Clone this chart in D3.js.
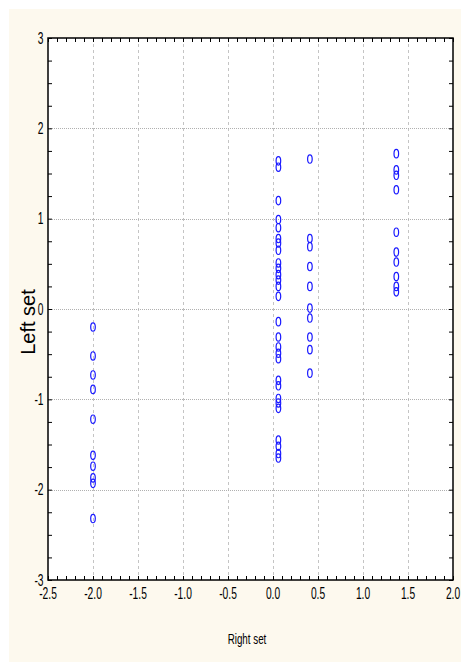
<!DOCTYPE html>
<html>
<head>
<meta charset="utf-8">
<script src="https://cdn.jsdelivr.net/npm/d3@7"></script>
<style>
  html, body { margin: 0; padding: 0; background: #ffffff; }
  svg { display: block; }
  .cond { font-family: "Liberation Sans", Arial, sans-serif; fill: #000; }
</style>
</head>
<body>
<svg id="chart" width="461" height="662"></svg>
<script>
// ---- Data ----
const xTickValues = [-2.5, -2.0, -1.5, -1.0, -0.5, 0.0, 0.5, 1.0, 1.5, 2.0];
const yTickValues = [3, 2, 1, 0, -1, -2, -3];
const xTickLabels = ["-2.5", "-2.0", "-1.5", "-1.0", "-0.5", "0.0", "0.5", "1.0", "1.5", "2.0"];
const yTickLabels = ["3", "2", "1", "0", "-1", "-2", "-3"];
const xLabel = "Right set";
const yLabel = "Left set";

const groupX = [-2.0, 0.06, 0.41, 1.37];
const groupA = [-0.20, -0.52, -0.73, -0.89, -1.22, -1.62, -1.74, -1.87, -1.93, -2.32];
const groupB = [1.64, 1.57, 1.20, 0.99, 0.90, 0.78, 0.73, 0.65, 0.51, 0.45, 0.38, 0.32, 0.25, 0.14,
                -0.14, -0.31, -0.42, -0.49, -0.55, -0.79, -0.85, -0.99, -1.04, -1.10, -1.45, -1.52, -1.60, -1.65];
const groupC = [1.66, 0.78, 0.69, 0.47, 0.25, 0.01, -0.10, -0.31, -0.45, -0.71];
const groupD = [1.72, 1.54, 1.48, 1.32, 0.85, 0.63, 0.52, 0.36, 0.25, 0.19];
const groups = [groupA, groupB, groupC, groupD];

// ---- Layout ----
const svg = d3.select("#chart");
const W = 461, H = 662;
const plot = { left: 48, right: 453, top: 38, bottom: 580 };

svg.append("rect").attr("x", 9).attr("y", 9).attr("width", W - 9).attr("height", H - 9)
  .attr("fill", "#fdf9ee");

const x = d3.scaleLinear().domain([-2.5, 2.0]).range([plot.left, plot.right]);
const y = d3.scaleLinear().domain([-3, 3]).range([plot.bottom, plot.top]);

svg.append("rect").attr("x", plot.left).attr("y", plot.top)
  .attr("width", plot.right - plot.left).attr("height", plot.bottom - plot.top)
  .attr("fill", "#ffffff");

// grid lines
svg.append("g").selectAll("line").data(xTickValues.slice(1, -1)).join("line")
  .attr("x1", d => Math.round(x(d)) + 0.5).attr("x2", d => Math.round(x(d)) + 0.5)
  .attr("y1", plot.top).attr("y2", plot.bottom)
  .attr("stroke", "#c4c4c4").attr("stroke-width", 1).attr("stroke-dasharray", "3,3");
svg.append("g").selectAll("line").data(yTickValues.slice(1, -1)).join("line")
  .attr("y1", d => Math.round(y(d)) + 0.5).attr("y2", d => Math.round(y(d)) + 0.5)
  .attr("x1", plot.left).attr("x2", plot.right)
  .attr("stroke", "#b0b0b0").attr("stroke-width", 1).attr("stroke-dasharray", "1,1");

// minor ticks (inward) via d3 axes
const xMinor = d3.range(-25, 21).map(i => i / 10);
const yMinor = d3.range(-12, 13).map(i => i / 4);
const tickLen = 4;
const gB = svg.append("g").attr("transform", `translate(0,${plot.bottom})`)
  .call(d3.axisTop(x).tickValues(xMinor).tickSize(tickLen).tickFormat(""));
const gT = svg.append("g").attr("transform", `translate(0,${plot.top})`)
  .call(d3.axisBottom(x).tickValues(xMinor).tickSize(tickLen).tickFormat(""));
const gL = svg.append("g").attr("transform", `translate(${plot.left},0)`)
  .call(d3.axisRight(y).tickValues(yMinor).tickSize(tickLen).tickFormat(""));
const gR = svg.append("g").attr("transform", `translate(${plot.right},0)`)
  .call(d3.axisLeft(y).tickValues(yMinor).tickSize(tickLen).tickFormat(""));
[gB, gT, gL, gR].forEach(g => { g.select(".domain").remove(); g.selectAll("line").attr("stroke", "#000").attr("stroke-width", 1); });

// frame
svg.append("rect").attr("x", plot.left).attr("y", plot.top)
  .attr("width", plot.right - plot.left).attr("height", plot.bottom - plot.top)
  .attr("fill", "none").attr("stroke", "#000").attr("stroke-width", 1.5);

// tick labels (condensed look via horizontal scaling)
svg.append("g").selectAll("text").data(xTickValues).join("text")
  .attr("class", "cond").attr("font-size", 16)
  .attr("transform", d => `translate(${x(d)},${plot.bottom + 18.5}) scale(0.64,1)`)
  .attr("text-anchor", "middle")
  .text((d, i) => xTickLabels[i]);
svg.append("g").selectAll("text").data(yTickValues).join("text")
  .attr("class", "cond").attr("font-size", 16)
  .attr("transform", d => `translate(${plot.left - 4.5},${y(d) + 5.5}) scale(0.64,1)`)
  .attr("text-anchor", "end")
  .text((d, i) => yTickLabels[i]);

// axis titles
svg.append("text").attr("class", "cond").attr("font-size", 14)
  .attr("transform", `translate(247,644) scale(0.7,1)`)
  .attr("text-anchor", "middle").text(xLabel);
svg.append("text").attr("transform", `translate(35,322) rotate(-90)`)
  .attr("text-anchor", "middle")
  .attr("font-family", "'Liberation Sans', Arial, sans-serif")
  .attr("font-size", 20).text(yLabel);

// points
const pts = [];
groups.forEach((g, gi) => g.forEach(v => pts.push({ x: groupX[gi], y: v })));
svg.append("g").selectAll("ellipse").data(pts).join("ellipse")
  .attr("cx", d => x(d.x)).attr("cy", d => y(d.y))
  .attr("rx", 2.3).attr("ry", 4.2)
  .attr("fill", "none").attr("stroke", "#1a1aff").attr("stroke-width", 1.2);
</script>
</body>
</html>
